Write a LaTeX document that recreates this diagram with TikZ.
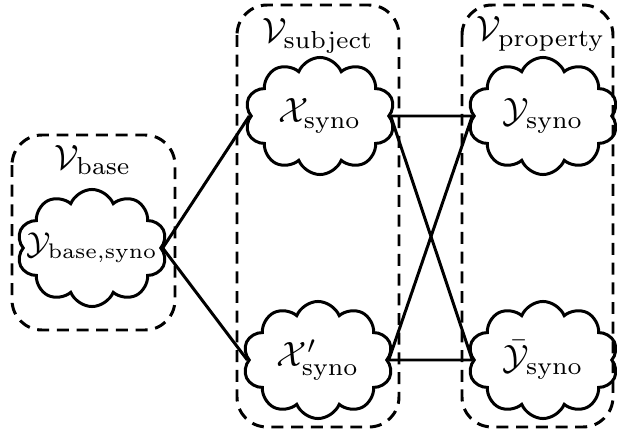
\documentclass[tikz,border=0pt]{standalone}
\usepackage{amsmath,amssymb}
\usetikzlibrary{shapes.symbols}

\begin{document}
\begin{tikzpicture}[x=0.01cm,y=-0.01cm,
    grp/.style={draw,line width=0.85pt,dash pattern=on 3.4pt off 2.2pt,rounded corners=0.3cm},
    puff/.style={cloud,cloud puffs=10,cloud puff arc=135,cloud ignores aspect,draw,line width=0.85pt,
        minimum width=1.5cm,minimum height=1.17cm,inner sep=0pt},
    link/.style={line width=0.85pt},
    every node/.style={font=\fontsize{10}{12}\selectfont},
    every label/.style={font=\fontsize{10}{12}\selectfont,inner sep=0pt}]
    \useasboundingbox (0,0) rectangle (617,436);

    % Define groups
    \draw[grp] (12,135) rectangle (175,330);
    \draw[grp] (237,5) rectangle (399,427);
    \draw[grp] (462,5) rectangle (613,427);
    \node (Vb) at (93,160) {$\mathcal{V}_{\mathrm{base}}$};
    \node (Vs) at (318,36) {$\mathcal{V}_{\mathrm{subject}}$};
    \node (Vp) at (541,34) {$\mathcal{V}_{\mathrm{property}}$};

    % Define clouds
    \node[puff,label={[font=\fontsize{9}{11}\selectfont]center:$\mathcal{Y}_{\mathrm{base,syno}}$}] (Yb) at (92,248) {};
    \node[puff,label={center:$\mathcal{X}_{\mathrm{syno}}$}] (X)  at (320,116) {};
    \node[puff,label={center:$\mathcal{X}'_{\mathrm{syno}}$}] (Xp) at (318,360) {};
    \node[puff,label={center:$\mathcal{Y}_{\mathrm{syno}}$}] (Y)  at (543,116) {};
    \node[puff,label={center:$\bar{\mathcal{Y}}_{\mathrm{syno}}$}] (Yt) at (543,360) {};

    \foreach \a/\b in {Yb/X,Yb/Xp,X/Y,X/Yt,Xp/Y,Xp/Yt} {
        \draw[link] (\a.east) -- (\b.west);
    }

\end{tikzpicture}
\end{document}
